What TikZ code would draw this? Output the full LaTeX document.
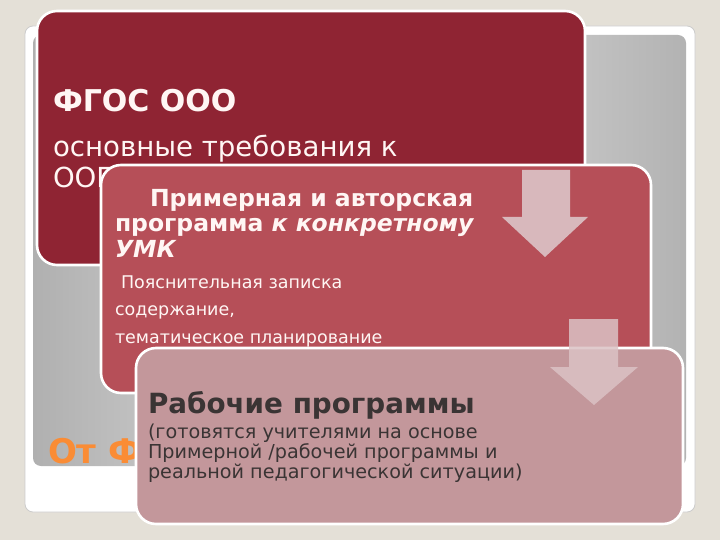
\documentclass[tikz,border=0pt]{standalone}
\usepackage{fontspec}
\setmainfont{DejaVu Sans}
\definecolor{bgc}{HTML}{E4E0D7}
\definecolor{cardA}{HTML}{8F2433}
\definecolor{cardB}{HTML}{B64F58}
\definecolor{cardC}{HTML}{C3979B}
\definecolor{arrowc}{HTML}{DBC2C5}
\definecolor{txtw}{HTML}{FFF6F4}
\definecolor{txtd}{HTML}{3A3434}
\definecolor{orng}{HTML}{FA8C35}
\tikzset{
  card/.style={draw=white, line width=2.6pt, rounded corners=20pt},
  tlabel/.style={anchor=base west, inner sep=0pt, outer sep=0pt},
  downarrow/.style={fill=arrowc, draw=none, fill opacity=0.92}
}
\begin{document}
\begin{tikzpicture}[x=1pt,y=-1pt]
\useasboundingbox (0,0) rectangle (720,540);
\fill[bgc] (0,0) rectangle (720,540);
% slide frame
\node[draw=gray!40, fill=white, rounded corners=8pt, line width=0.8pt, minimum width=670pt, minimum height=486pt, inner sep=0pt] (frame) at (360,269) {};
\path[rounded corners=8pt, left color=gray!62, right color=gray!60, middle color=gray!22] (33,35) rectangle (686,466);
\coordinate (panel) at (359.5,250.5);
% orange title (hidden behind cards)
\node[tlabel, text=orng, font=\fontsize{34}{40}\selectfont\bfseries] (title) at (48,463) {От Ф};
% card 1
\node[card, fill=cardA, minimum width=548pt, minimum height=254pt, inner sep=0pt] (c1) at (311,138) {};
\node[tlabel, text=txtw, font=\fontsize{30}{36}\selectfont\bfseries] (t1) at (53,112) {ФГОС ООО};
\node[tlabel, text=txtw, font=\fontsize{27.6}{32}\selectfont] (t2) at (53,157) {основные требования к};
\node[tlabel, text=txtw, font=\fontsize{27.6}{32}\selectfont] (t3) at (53,188) {ООП};
% card 2
\node[card, fill=cardB, minimum width=550pt, minimum height=228pt, inner sep=0pt] (c2) at (376,279) {};
\node[tlabel, text=txtw, font=\fontsize{23.5}{25}\selectfont\bfseries] (t4) at (150,207) {Примерная и авторская};
\node[tlabel, text=txtw, font=\fontsize{23.5}{25}\selectfont\bfseries] (t5) at (115,232) {программа \textit{к конкретному}};
\node[tlabel, text=txtw, font=\fontsize{23.5}{25}\selectfont\bfseries\itshape] (t6) at (115,258) {УМК};
\node[tlabel, text=txtw, font=\fontsize{17.5}{20}\selectfont] (t7) at (121,288) {Пояснительная записка};
\node[tlabel, text=txtw, font=\fontsize{17.5}{20}\selectfont] (t8) at (115,315) {содержание,};
\node[tlabel, text=txtw, font=\fontsize{17.5}{20}\selectfont] (t9) at (115,343) {тематическое планирование};
% arrow 1
\path[downarrow] (522,170) -- (570,170) -- (570,217) -- (588,217) -- (545,257) -- (502,217) -- (522,217) -- cycle;
% card 3
\node[card, fill=cardC, minimum width=547pt, minimum height=176pt, inner sep=0pt] (c3) at (409.5,436) {};
\node[tlabel, text=txtd, font=\fontsize{27.8}{30}\selectfont\bfseries] (t10) at (148,413) {Рабочие программы};
\node[tlabel, text=txtd, font=\fontsize{19.2}{20}\selectfont] (t11) at (148,438) {(готовятся учителями на основе};
\node[tlabel, text=txtd, font=\fontsize{19.2}{20}\selectfont] (t12) at (148,458) {Примерной /рабочей программы и};
\node[tlabel, text=txtd, font=\fontsize{19.2}{20}\selectfont] (t13) at (148,478) {реальной педагогической ситуации)};
% arrow 2
\path[downarrow, fill opacity=0.85] (569,319) -- (618,319) -- (618,367) -- (638,367) -- (594,405) -- (550,367) -- (569,367) -- cycle;
\end{tikzpicture}
\end{document}
